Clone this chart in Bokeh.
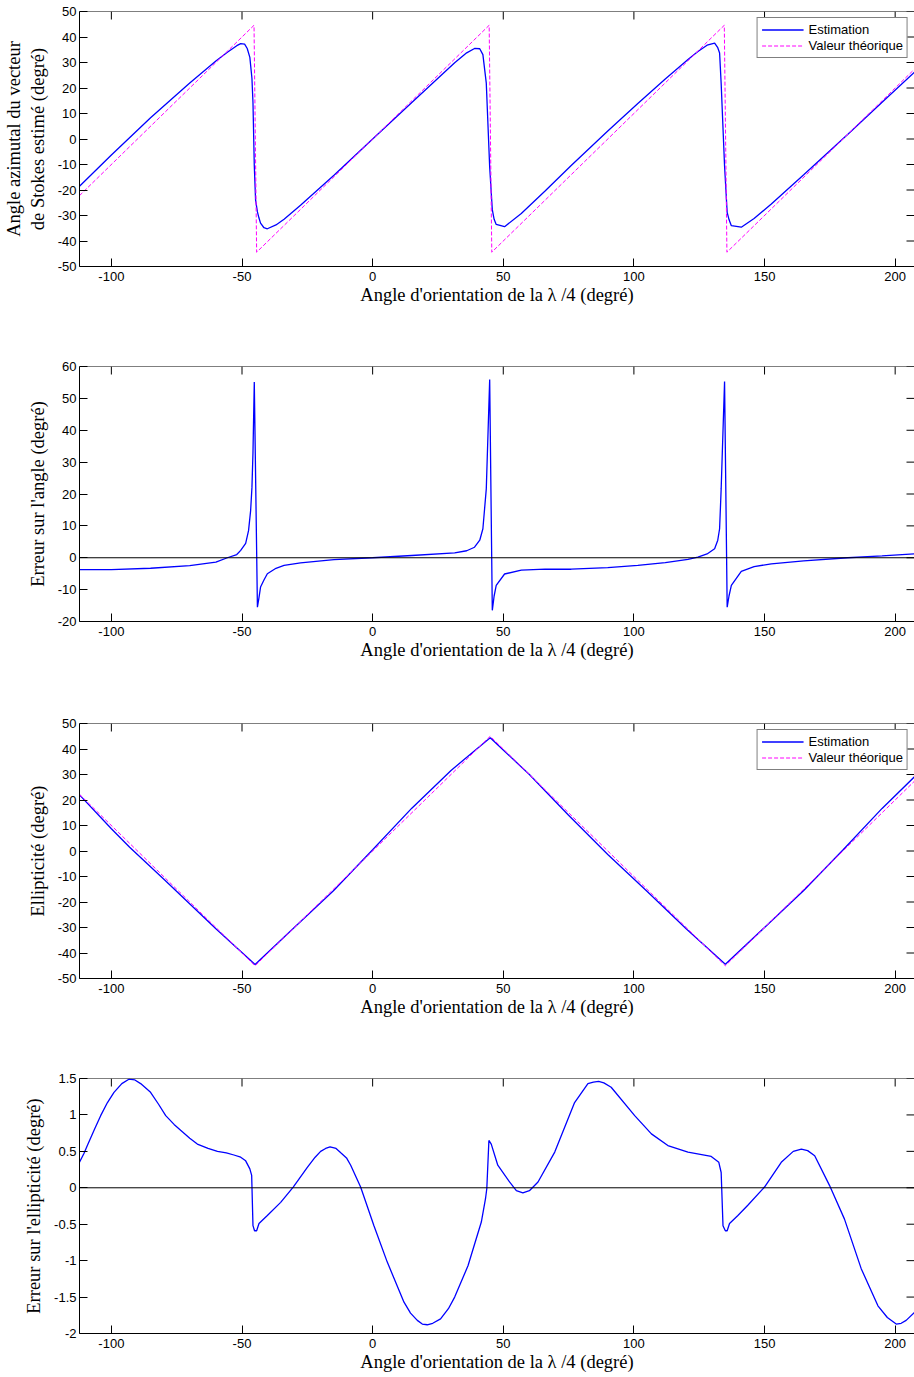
from bokeh.plotting import figure
from bokeh.models import Range1d, LinearAxis, FixedTicker, Span
from bokeh.layouts import column
from bokeh.embed import file_html
from bokeh.resources import INLINE

# ---------------- data ----------------
x_start, x_end = -112.2, 207.4
x_ticks = [-100, -50, 0, 50, 100, 150, 200]
x_tick_labels = ["-100", "-50", "0", "50", "100", "150", "200"]
x_label = "Angle d'orientation de la \u03bb /4 (degr\u00e9)"

legend_labels = ["Estimation", "Valeur th\u00e9orique"]

# Panel 1 : azimuth angle
azim_est_x = [-112.2, -100, -85, -70, -60, -55.6, -52, -50.5, -49, -48.0, -47.0, -46.2, -45.8, -45.3, -44.8,
              -44.1, -43.5, -42.9, -41.6, -40.3, -37, -33.9, -27.6, -14.8, 0, 15, 31.4, 36, 39, 41, 42.2,
              43.5, 44.8, 45.8, 46.5, 47.3, 50.5, 56.9, 66, 76, 90, 101.5, 112, 120.7, 124.5, 128, 130.9,
              132.1, 132.8, 133.4, 134.7, 135.7, 136.4, 137.3, 141.1, 146, 152.6, 165, 181.9, 195, 207.4]
azim_est_y = [-18.5, -6.3, 8.3, 22.0, 30.6, 34.0, 36.6, 37.4, 37.2, 35.5, 32.0, 23.8, 14.2, -10.4, -24.0,
              -28.6, -31.0, -33.0, -34.8, -35.2, -33.7, -31.5, -26.0, -14.2, 0.0, 14.3, 29.9, 33.8, 35.5, 35.4, 33.1,
              21.9, -11.1, -27.7, -31.5, -33.5, -34.4, -29.2, -20.4, -10.4, 3.1, 13.9, 23.5, 31.2, 34.3, 36.8, 37.6,
              35.8, 33.7, 21.8, -10.6, -28.8, -31.6, -34.0, -34.6, -31.2, -25.5, -14.0, 1.9, 14.4, 26.2]
azim_theo_x = [-112.2, -45.4, -44.4, 44.6, 45.6, 134.6, 135.6, 207.4]
azim_theo_y = [-22.2, 44.6, -44.4, 44.6, -44.4, 44.6, -44.4, 27.4]
azim_ticks = [-50, -40, -30, -20, -10, 0, 10, 20, 30, 40, 50]
azim_tick_labels = ["-50", "-40", "-30", "-20", "-10", "0", "10", "20", "30", "40", "50"]

# Panel 2 : error on angle
angle_err_x = [-112.2, -100, -85, -70, -60, -55.6, -52, -50.5, -48.6, -47.5, -46.7, -46.2, -45.8, -45.3, -44.1,
               -43.5, -42.9, -41.6, -40.3, -37, -33.9, -27.6, -14.8, 0, 15, 31.4, 36, 39, 41, 42.2, 43.5, 44.8,
               45.8, 46.5, 47.3, 50.5, 56.9, 66, 76, 90, 101.5, 112, 120.7, 124.5, 128, 130.9, 132.1, 132.8,
               133.4, 134.7, 135.7, 136.4, 137.3, 141.1, 146, 152.6, 165, 181.9, 195, 207.4]
angle_err_y = [-3.7, -3.7, -3.3, -2.5, -1.4, 0.0, 1.0, 2.3, 4.5, 8.5, 14.8, 22.0, 33.0, 55.1, -15.5,
               -12.5, -9.2, -7.0, -5.0, -3.3, -2.4, -1.6, -0.6, 0.0, 0.7, 1.5, 2.2, 3.3, 5.5, 9.1, 21.6, 55.9,
               -16.5, -12.0, -8.7, -5.1, -3.9, -3.6, -3.6, -3.1, -2.4, -1.5, -0.5, 0.2, 1.2, 2.8, 5.5, 9.1,
               21.6, 55.3, -15.5, -12.0, -8.7, -4.3, -2.8, -1.9, -1.0, 0.0, 0.6, 1.2]
angle_err_ticks = [-20, -10, 0, 10, 20, 30, 40, 50, 60]
angle_err_tick_labels = ["-20", "-10", "0", "10", "20", "30", "40", "50", "60"]

# Panel 3 : ellipticity
ellip_est_x = [-112.2, -100, -93, -80, -60, -45, -30, -15, 0, 15, 30, 45, 60, 75, 90, 105, 120, 135, 150,
               165, 180, 195, 207.4]
ellip_est_y = [22.0, 8.7, 1.5, -11.0, -30.5, -44.5, -30.0, -15.6, 0.5, 16.8, 31.6, 44.4, 30.0, 14.0, -1.4,
               -15.8, -30.5, -44.4, -30.0, -15.5, 0.4, 16.7, 29.1]
ellip_theo_x = [-112.2, -45, 45, 135, 207.4]
ellip_theo_y = [22.2, -45, 45, -45, 27.4]
ellip_ticks = azim_ticks
ellip_tick_labels = azim_tick_labels

# Panel 4 : error on ellipticity
ellip_err_x = [-112.2, -110.5, -109.2, -106.5, -104.1, -101.5, -99.0, -96.0, -93.3, -91.0, -88.8, -85.0, -82.0,
               -79.2, -76.0, -73.5, -70.0, -67.1, -63.0, -59.4, -56.0, -53.1, -50.5, -48.6,
               -47.0, -46.3, -45.8, -45.2, -44.4, -43.5, -40.3, -35.2, -30.4, -25.0, -22.0, -19.9, -18.0, -16.3,
               -14.0, -12.2, -10.0, -8.4, -4.6, 0.5, 5.6, 12.0, 14.5, 17.1, 19.0, 20.9, 23.0, 26.0, 29.0, 31.4,
               36.5, 41.6, 43.2, 43.7, 44.5, 45.4, 47.9, 52.4, 55.0, 57.5, 60.0, 63.3, 69.7, 77.3, 82.4, 84.5,
               86.5, 88.5, 91.3, 100.3, 106.7, 113.0, 120.7, 129.6, 132.5, 133.4, 134.1, 135.0, 135.7, 136.6,
               139.8, 143.6, 150.0, 156.4, 161.0, 164.1, 166.5, 169.2, 174.9, 180.6, 187.0, 193.4, 197.0,
               200.4, 202.3, 204.2, 207.4]
ellip_err_y = [0.35, 0.47, 0.58, 0.80, 0.99, 1.17, 1.31, 1.43, 1.49, 1.48, 1.43, 1.31, 1.15,
               0.99, 0.87, 0.79, 0.68, 0.60, 0.54, 0.50, 0.48, 0.45, 0.42, 0.37,
               0.26, 0.17, -0.52, -0.59, -0.59, -0.49, -0.38, -0.20, 0.01, 0.28, 0.42, 0.50, 0.54, 0.56,
               0.54, 0.48, 0.41, 0.31, 0.01, -0.52, -1.02, -1.57, -1.72, -1.82, -1.87, -1.88, -1.86, -1.80, -1.66, -1.50,
               -1.07, -0.47, -0.15, -0.01, 0.65, 0.60, 0.31, 0.08, -0.04, -0.07, -0.04, 0.08, 0.49, 1.17, 1.43, 1.45,
               1.46, 1.44, 1.38, 0.99, 0.74, 0.58, 0.49, 0.43, 0.35, 0.21, -0.52, -0.59, -0.59, -0.49,
               -0.38, -0.24, 0.01, 0.35, 0.50, 0.53, 0.51, 0.44, 0.03, -0.43, -1.11, -1.62, -1.78,
               -1.87, -1.86, -1.82, -1.71]
ellip_err_ticks = [-2, -1.5, -1, -0.5, 0, 0.5, 1, 1.5]
ellip_err_tick_labels = ["-2", "-1.5", "-1", "-0.5", "0", "0.5", "1", "1.5"]

# ---------------- styling helpers ----------------
TICK_FONT = "Liberation Sans"
LABEL_FONT = "Liberation Serif"
BLUE = "#0000FF"
MAGENTA = "#FF00FF"


def style_axis(ax, ticks, labels):
    ax.ticker = FixedTicker(ticks=ticks)
    ax.major_tick_in = 8
    ax.major_tick_out = 0
    ax.minor_tick_line_color = None
    ax.major_tick_line_color = "black"
    ax.major_tick_line_width = 1
    ax.axis_line_color = "black"
    ax.axis_line_width = 1
    ax.major_label_overrides = dict(zip(ticks, labels))
    ax.major_label_text_font = TICK_FONT
    ax.major_label_text_font_size = "13px"
    ax.major_label_text_color = "black"
    ax.axis_label_text_font = LABEL_FONT
    ax.axis_label_text_font_style = "normal"
    ax.axis_label_text_font_size = "18.5px"
    ax.axis_label_text_color = "black"


def build_panel(ylabel, y_start, y_end, yticks, ylabels, border_bottom):
    p = figure(width=914, height=11 + 255 + border_bottom,
               x_range=Range1d(x_start, x_end), y_range=Range1d(y_start, y_end),
               x_axis_type=None, y_axis_type=None,
               output_backend="svg", toolbar_location=None,
               min_border_left=78, min_border_right=0, min_border_top=11,
               min_border_bottom=border_bottom, outline_line_color=None,
               background_fill_color="white", border_fill_color="white")

    bottom = LinearAxis(axis_label=x_label)
    style_axis(bottom, x_ticks, x_tick_labels)
    bottom.major_label_standoff = 5
    bottom.axis_label_standoff = 1
    p.add_layout(bottom, "below")

    left = LinearAxis(axis_label=ylabel)
    style_axis(left, yticks, ylabels)
    left.major_label_standoff = 3
    left.axis_label_standoff = 7
    p.add_layout(left, "left")

    # box top line and mirrored inward ticks (top and right), as in the original figure
    p.add_layout(Span(location=y_end, dimension="width", line_color="black", line_width=1))
    p.ray(x=x_ticks, y=[y_end] * len(x_ticks), length=8, length_units="screen",
          angle=-90, angle_units="deg", line_color="black", line_width=1)
    p.ray(x=[x_end] * len(yticks), y=yticks, length=8, length_units="screen",
          angle=180, angle_units="deg", line_color="black", line_width=1)
    return p


def style_legend(p):
    lg = p.legend[0]
    lg.location = "top_right"
    lg.margin = 6
    lg.padding = 4
    lg.spacing = 1
    lg.glyph_width = 42
    lg.glyph_height = 15
    lg.label_height = 15
    lg.label_standoff = 5
    lg.label_text_font = TICK_FONT
    lg.label_text_font_size = "13px"
    lg.label_text_color = "black"
    lg.border_line_color = "black"
    lg.border_line_width = 1
    lg.background_fill_alpha = 1.0


# ---------------- panels ----------------
p1 = build_panel("Angle azimutal du vecteur\nde Stokes estim\u00e9 (degr\u00e9)", -50, 50,
                 azim_ticks, azim_tick_labels, 89)
p1.line(azim_est_x, azim_est_y, line_color=BLUE, line_width=1.3, legend_label=legend_labels[0])
p1.line(azim_theo_x, azim_theo_y, line_color=MAGENTA, line_width=1, line_dash="4 2",
        legend_label=legend_labels[1])
style_legend(p1)

p2 = build_panel("Erreur sur l'angle (degr\u00e9)", -20, 60, angle_err_ticks, angle_err_tick_labels, 91)
p2.add_layout(Span(location=0, dimension="width", line_color="black", line_width=1))
p2.line(angle_err_x, angle_err_y, line_color=BLUE, line_width=1.3)

p3 = build_panel("Ellipticit\u00e9 (degr\u00e9)", -50, 50, ellip_ticks, ellip_tick_labels, 89)
p3.line(ellip_est_x, ellip_est_y, line_color=BLUE, line_width=1.3, legend_label=legend_labels[0])
p3.line(ellip_theo_x, ellip_theo_y, line_color=MAGENTA, line_width=1, line_dash="4 2",
        legend_label=legend_labels[1])
style_legend(p3)

p4 = build_panel("Erreur sur l'ellipticit\u00e9 (degr\u00e9)", -2, 1.5, ellip_err_ticks, ellip_err_tick_labels, 42)
p4.add_layout(Span(location=0, dimension="width", line_color="black", line_width=1))
p4.line(ellip_err_x, ellip_err_y, line_color=BLUE, line_width=1.3)

layout = column(p1, p2, p3, p4)
open("out.html", "w").write(file_html(layout, INLINE))
